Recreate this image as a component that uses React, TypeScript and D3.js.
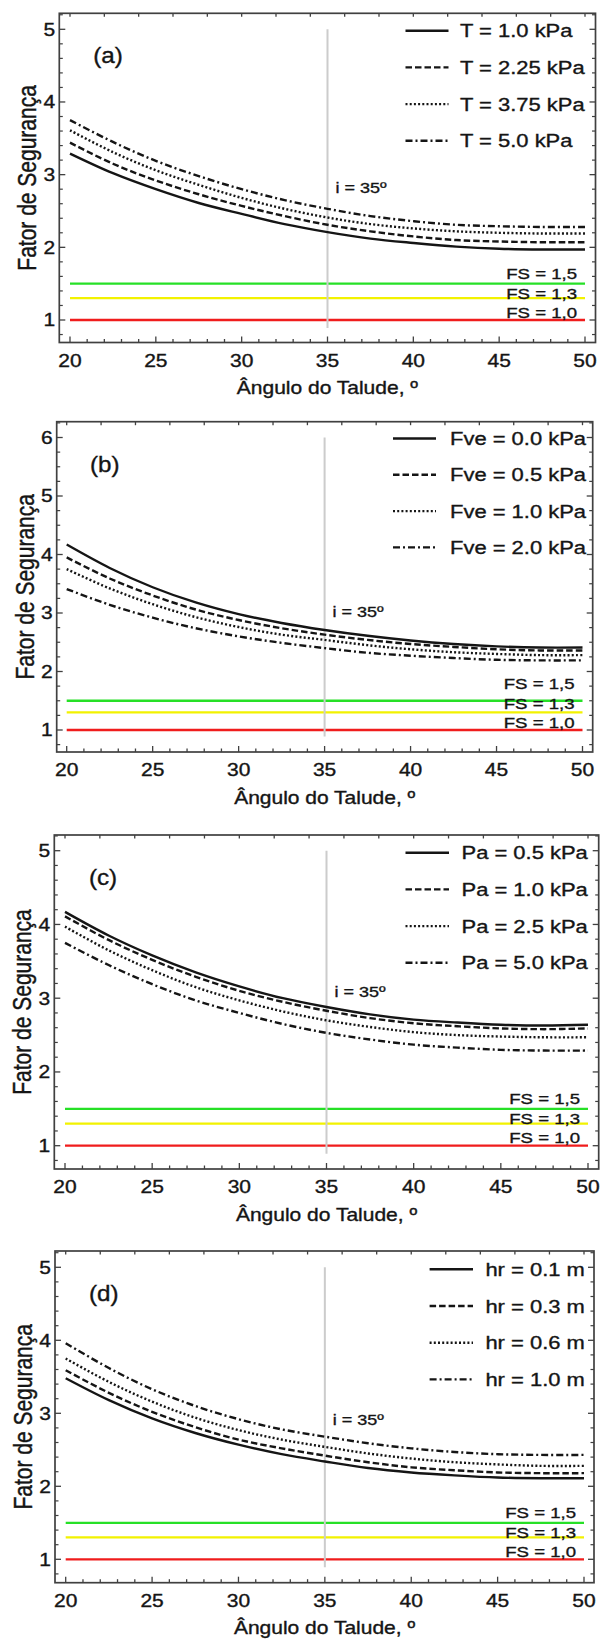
import React from 'react';
import * as d3 from 'd3';

// ---------- data ----------
const ANGLES = [20, 22.5, 25, 27.5, 30, 32.5, 35, 37.5, 40, 42.5, 45, 47.5, 50];
const X_TICKS = [20, 25, 30, 35, 40, 45, 50];

const A_LABELS = ['T = 1.0 kPa', 'T = 2.25 kPa', 'T = 3.75 kPa', 'T = 5.0 kPa'];
const A_T1 = [3.29, 3.02, 2.80, 2.61, 2.46, 2.32, 2.21, 2.12, 2.06, 2.01, 1.98, 1.97, 1.97];
const A_T2 = [3.44, 3.15, 2.92, 2.73, 2.57, 2.43, 2.31, 2.22, 2.15, 2.10, 2.08, 2.07, 2.07];
const A_T3 = [3.61, 3.31, 3.06, 2.86, 2.68, 2.53, 2.41, 2.32, 2.26, 2.22, 2.20, 2.19, 2.19];
const A_T4 = [3.75, 3.45, 3.19, 2.98, 2.80, 2.65, 2.53, 2.43, 2.36, 2.31, 2.29, 2.28, 2.28];

const B_LABELS = ['Fve = 0.0 kPa', 'Fve = 0.5 kPa', 'Fve = 1.0 kPa', 'Fve = 2.0 kPa'];
const B_F1 = [4.17, 3.77, 3.44, 3.18, 2.98, 2.83, 2.71, 2.61, 2.53, 2.47, 2.43, 2.41, 2.41];
const B_F2 = [3.95, 3.59, 3.30, 3.06, 2.88, 2.74, 2.63, 2.54, 2.47, 2.42, 2.38, 2.36, 2.36];
const B_F3 = [3.75, 3.42, 3.15, 2.93, 2.76, 2.63, 2.54, 2.45, 2.38, 2.33, 2.30, 2.28, 2.28];
const B_F4 = [3.41, 3.14, 2.92, 2.74, 2.60, 2.49, 2.40, 2.32, 2.27, 2.23, 2.20, 2.19, 2.19];

const C_LABELS = ['Pa = 0.5 kPa', 'Pa = 1.0 kPa', 'Pa = 2.5 kPa', 'Pa = 5.0 kPa'];
const C_P1 = [4.17, 3.85, 3.58, 3.35, 3.16, 3.00, 2.88, 2.78, 2.71, 2.67, 2.64, 2.63, 2.64];
const C_P2 = [4.11, 3.79, 3.52, 3.29, 3.10, 2.95, 2.83, 2.73, 2.66, 2.62, 2.59, 2.58, 2.59];
const C_P3 = [3.97, 3.65, 3.38, 3.15, 2.97, 2.82, 2.70, 2.61, 2.54, 2.50, 2.48, 2.47, 2.47];
const C_P4 = [3.75, 3.45, 3.19, 2.97, 2.80, 2.65, 2.53, 2.44, 2.37, 2.33, 2.30, 2.29, 2.29];

const D_LABELS = ['hr = 0.1 m', 'hr = 0.3 m', 'hr = 0.6 m', 'hr = 1.0 m'];
const D_H1 = [3.48, 3.18, 2.93, 2.73, 2.57, 2.44, 2.34, 2.25, 2.19, 2.15, 2.12, 2.11, 2.11];
const D_H2 = [3.59, 3.28, 3.02, 2.81, 2.64, 2.52, 2.42, 2.33, 2.26, 2.22, 2.19, 2.18, 2.18];
const D_H3 = [3.75, 3.43, 3.16, 2.94, 2.77, 2.64, 2.54, 2.45, 2.38, 2.33, 2.30, 2.28, 2.28];
const D_H4 = [3.96, 3.62, 3.33, 3.10, 2.92, 2.78, 2.68, 2.59, 2.52, 2.47, 2.44, 2.43, 2.43];

const PANEL_TAGS = ['(a)', '(b)', '(c)', '(d)'];
const FS_LEVELS = [1.5, 1.3, 1.0];
const FS_LABELS = ['FS = 1,5', 'FS = 1,3', 'FS = 1,0'];
const REF_ANGLE = 35;
const REF_LABEL = 'i = 35º';
const X_TITLE = 'Ângulo do Talude, º';
const Y_TITLE = 'Fator de Segurança';

// ---------- styles ----------
const FS_COLORS = ['#26e026', '#f2f200', '#f01c1c'];
const DASHES = ['none', '6.5,3', '2,2.2', '7,3,2,3'];
const FONT = 'Liberation Sans, Arial, Helvetica, sans-serif';
const SX = 1.2;
const AXIS = '#404040';
const INK = '#151515';

const LAYOUT = [
  { L: 59.3, R: 595.5, T: 13.3, B: 342.5, x0: 70, x1: 585, yLo: 320, yHi: 29.3, yMax: 5, minor: 0.2, legX1: 405.5, legX2: 448.5, legTX: 460, legY: 30.7, legDY: 36.7, refY: 2.83 },
  { L: 56.7, R: 592.7, T: 421.7, B: 752, x0: 66.7, x1: 582.5, yLo: 730, yHi: 437.5, yMax: 6, minor: 0.25, legX1: 393, legX2: 436, legTX: 450, legY: 438.5, legDY: 36.3, refY: 3.02 },
  { L: 54.3, R: 598.7, T: 835, B: 1169, x0: 65, x1: 588, yLo: 1145.7, yHi: 850.7, yMax: 5, minor: 0.2, legX1: 405.5, legX2: 449, legTX: 461.5, legY: 852.7, legDY: 36.7, refY: 3.09 },
  { L: 55, R: 594, T: 1251, B: 1582.7, x0: 65.7, x1: 584, yLo: 1559.3, yHi: 1267.3, yMax: 5, minor: 0.2, legX1: 429.6, legX2: 473, legTX: 485.4, legY: 1269.3, legDY: 36.7, refY: 2.92 },
];

const PANELS = [
  { labels: A_LABELS, series: [A_T1, A_T2, A_T3, A_T4] },
  { labels: B_LABELS, series: [B_F1, B_F2, B_F3, B_F4] },
  { labels: C_LABELS, series: [C_P1, C_P2, C_P3, C_P4] },
  { labels: D_LABELS, series: [D_H1, D_H2, D_H3, D_H4] },
];

function SText({ x, y, size, anchor = 'start', sx = SX, children }: any) {
  return (
    <text
      transform={`translate(${x},${y}) scale(${sx},1)`}
      fontSize={size}
      textAnchor={anchor}
      fontFamily={FONT}
      fill={INK}
      stroke={INK}
      strokeWidth={0.35}
    >
      {children}
    </text>
  );
}

function Panel({ idx }: { idx: number }) {
  const lay = LAYOUT[idx];
  const p = PANELS[idx];
  const x = d3.scaleLinear().domain([20, 50]).range([lay.x0, lay.x1]);
  const y = d3.scaleLinear().domain([1, lay.yMax]).range([lay.yLo, lay.yHi]);
  const yBot = y.invert(lay.B);
  const yTop = y.invert(lay.T);
  const line = d3
    .line<number>()
    .x((_, i) => x(ANGLES[i]))
    .y((d) => y(d))
    .curve(d3.curveCatmullRom.alpha(0.5));

  const xMinor = d3.range(20, 50.001, 1);
  const xTop = d3.range(20, 50.001, 2);
  const yMajor = d3.range(1, lay.yMax + 0.001, 1);
  const yMinor: number[] = [];
  for (let v = Math.ceil(yBot / lay.minor) * lay.minor; v <= yTop + 1e-9; v += lay.minor) {
    const r = Math.round(v * 1000) / 1000;
    if (Math.abs(r - Math.round(r)) > 1e-6) yMinor.push(r);
  }
  const MJ = 6;
  const MN = 3.5;

  return (
    <g>
      {FS_LEVELS.map((lv, i) => (
        <line key={'fs' + i} x1={x(20)} x2={x(50)} y1={y(lv)} y2={y(lv)} stroke={FS_COLORS[i]} strokeWidth={2.3} />
      ))}
      <line x1={x(REF_ANGLE)} x2={x(REF_ANGLE)} y1={y(0.89)} y2={y(lay.yMax)} stroke="#cccccc" strokeWidth={2} />
      {p.series.map((s, i) => (
        <path
          key={'c' + i}
          d={line(s) || ''}
          fill="none"
          stroke={INK}
          strokeWidth={2.4}
          strokeDasharray={DASHES[i]}
        />
      ))}
      <rect x={lay.L} y={lay.T} width={lay.R - lay.L} height={lay.B - lay.T} fill="none" stroke={AXIS} strokeWidth={1.7} />
      {xMinor.map((v) => {
        const len = v % 5 === 0 ? MJ : MN;
        return <line key={'bx' + v} x1={x(v)} x2={x(v)} y1={lay.B} y2={lay.B - len} stroke={AXIS} strokeWidth={1.3} />;
      })}
      {xTop.map((v) => (
        <line key={'tx' + v} x1={x(v)} x2={x(v)} y1={lay.T} y2={lay.T + MN} stroke={AXIS} strokeWidth={1.3} />
      ))}
      {yMajor.map((v) => (
        <g key={'ym' + v}>
          <line x1={lay.L} x2={lay.L + MJ} y1={y(v)} y2={y(v)} stroke={AXIS} strokeWidth={1.3} />
          <line x1={lay.R} x2={lay.R - MJ} y1={y(v)} y2={y(v)} stroke={AXIS} strokeWidth={1.3} />
        </g>
      ))}
      {yMinor.map((v) => (
        <g key={'yn' + v}>
          <line x1={lay.L} x2={lay.L + MN} y1={y(v)} y2={y(v)} stroke={AXIS} strokeWidth={1.2} />
          <line x1={lay.R} x2={lay.R - MN} y1={y(v)} y2={y(v)} stroke={AXIS} strokeWidth={1.2} />
        </g>
      ))}
      {X_TICKS.map((v) => (
        <SText key={'xl' + v} x={x(v)} y={lay.B + 24} size={17.5} anchor="middle">
          {String(v)}
        </SText>
      ))}
      {yMajor.map((v) => (
        <SText key={'yl' + v} x={lay.L - 4} y={y(v) + 6.3} size={17.5} anchor="end">
          {String(v)}
        </SText>
      ))}
      <SText x={(lay.L + lay.R) / 2} y={lay.B + 51.5} size={17.5} anchor="middle">
        {X_TITLE}
      </SText>
      <text
        transform={`translate(${lay.L - 23},${(lay.T + lay.B) / 2}) scale(${SX},1) rotate(-90)`}
        fontSize={21}
        textAnchor="middle"
        fontFamily={FONT}
        fill={INK}
        stroke={INK}
        strokeWidth={0.35}
      >
        {Y_TITLE}
      </text>
      <SText x={x(20) + 38} y={y(lay.yMax) + 34} size={22} anchor="middle" sx={1.1}>
        {PANEL_TAGS[idx]}
      </SText>
      <SText x={x(REF_ANGLE) + 8} y={y(lay.refY) + 5.5} size={15}>
        {REF_LABEL}
      </SText>
      {FS_LABELS.map((t, i) => {
        const off = [47, 27, 8][i];
        return (
          <SText key={'fl' + i} x={x(50) - 8} y={y(1) - off + 5.5} size={15.5} anchor="end">
            {t}
          </SText>
        );
      })}
      {p.labels.map((t, i) => {
        const cy = lay.legY + i * lay.legDY;
        return (
          <g key={'lg' + i}>
            <line x1={lay.legX1} x2={lay.legX2} y1={cy} y2={cy} stroke={INK} strokeWidth={2.4} strokeDasharray={DASHES[i]} />
            <SText x={lay.legTX} y={cy + 6.6} size={18.3}>
              {t}
            </SText>
          </g>
        );
      })}
    </g>
  );
}

export default function App() {
  return (
    <svg
      width={602}
      height={1641}
      viewBox="0 0 602 1641"
      style={{ position: 'absolute', left: 0, top: 0, display: 'block', background: '#fff' }}
    >
      <rect x={0} y={0} width={602} height={1641} fill="#fff" />
      {[0, 1, 2, 3].map((i) => (
        <Panel key={i} idx={i} />
      ))}
    </svg>
  );
}
